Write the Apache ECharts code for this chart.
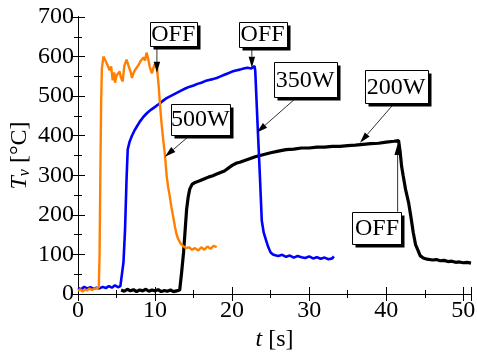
<!DOCTYPE html>
<html>
<head>
<meta charset="utf-8">
<script src="https://cdn.jsdelivr.net/npm/echarts@6/dist/echarts.min.js"></script>
<style>html,body{margin:0;padding:0;background:#fff}#c{width:477px;height:356px}</style>
</head>
<body>
<div id="c"></div>
<script>
// ---- data: [t (s), Tv (°C)] ----
var s500W = [[0.0,8],[0.3,12],[0.6,6],[0.9,11],[1.2,9],[1.5,14],[1.8,10],[2.1,13],[2.4,15],[2.7,16],[2.8,100],[2.9,300],[3.0,480],[3.1,570],[3.3,600],[3.5,598],[3.8,580],[4.1,565],[4.3,575],[4.5,540],[4.7,560],[4.8,534],[5.0,552],[5.2,548],[5.4,562],[5.6,545],[5.8,537],[6.0,575],[6.3,592],[6.5,580],[6.7,575],[6.85,560],[7.0,546],[7.2,558],[7.4,566],[7.6,571],[7.9,580],[8.1,588],[8.3,592],[8.5,598],[8.7,590],[8.9,610],[9.1,595],[9.3,575],[9.45,565],[9.6,558],[9.8,572],[9.95,580],[10.1,576],[10.25,572],[10.45,530],[10.6,490],[10.8,440],[11.0,400],[11.3,348],[11.5,300],[11.7,270],[11.9,248],[12.1,222],[12.4,190],[12.6,168],[12.8,150],[13.0,139],[13.3,128],[13.6,122],[14.0,116],[14.4,118],[14.8,112],[15.2,116],[15.6,110],[16.0,118],[16.4,112],[16.8,120],[17.2,114],[17.6,122],[18.0,118]];

var s350W = [[0.0,15],[0.4,12],[0.8,18],[1.2,14],[1.6,17],[2.0,13],[2.4,16],[2.8,14],[3.2,18],[3.6,15],[4.0,20],[4.4,16],[4.8,22],[5.2,17],[5.5,20],[5.7,25],[5.9,80],[6.1,160],[6.3,290],[6.45,365],[6.7,385],[7.0,400],[7.3,412],[7.6,422],[8.0,435],[8.5,448],[9.0,458],[9.5,466],[10.0,473],[10.5,480],[11.0,488],[11.5,495],[12.0,500],[12.5,505],[13.0,510],[13.5,515],[14.0,520],[14.5,524],[15.0,527],[15.5,531],[16.0,534],[16.5,538],[17.0,541],[17.5,543],[18.0,546],[18.5,550],[19.0,554],[19.5,558],[20.0,562],[20.5,565],[21.0,567],[21.5,570],[22.0,572],[22.5,570],[22.9,576],[23.0,565],[23.3,430],[23.6,300],[23.85,185],[24.1,155],[24.4,136],[24.7,118],[25.0,105],[25.3,100],[25.6,98],[26.0,96],[26.5,99],[27.0,94],[27.5,97],[28.0,92],[28.5,96],[29.0,93],[29.5,91],[30.0,95],[30.5,90],[31.0,93],[31.5,89],[32.0,92],[32.5,88],[33.0,90],[33.2,95]];

var s200W = [[5.6,10],[6.0,7],[6.4,12],[6.8,8],[7.2,11],[7.6,6],[8.0,10],[8.4,8],[8.8,12],[9.2,7],[9.6,10],[10.0,8],[10.4,11],[10.8,6],[11.2,9],[11.6,7],[12.0,10],[12.4,6],[12.8,8],[13.2,10],[13.45,55],[13.7,105],[13.9,160],[14.1,215],[14.3,245],[14.5,265],[14.8,277],[15.2,282],[15.8,286],[16.5,292],[17.0,296],[17.5,299],[18.0,303],[19.0,311],[20.0,325],[20.6,331],[21.0,333],[22.0,340],[23.0,347],[24.0,352],[25.0,357],[26.0,361],[27.0,365],[28.0,366],[29.0,369],[30.0,369],[31.0,371],[32.0,371],[33.0,373],[34.0,373],[35.0,375],[36.0,376],[37.0,378],[38.0,380],[39.0,381],[40.0,384],[41.0,386],[41.6,388],[41.8,360],[42.0,322],[42.2,299],[42.5,265],[42.9,231],[43.2,195],[43.5,156],[43.8,125],[44.0,116],[44.4,97],[44.8,91],[45.3,88],[46.0,86],[46.5,87],[47.0,84],[47.5,85],[48.0,82],[48.5,83],[49.0,80],[49.5,81],[50.0,79],[50.5,80],[51.0,78]];

var xTicks = [0, 10, 20, 30, 40, 50];
var yTicks = [0, 100, 200, 300, 400, 500, 600, 700];

// annotations: label box centre (data coords), arrow from -> to (data coords)
var notes = [
  {text:'OFF',  box:[12.36,657], w:47, h:24, from:[10.24,627], to:[10.24,559]},
  {text:'OFF',  box:[23.96,657], w:48, h:25, from:[22.56,626], to:[22.56,572]},
  {text:'350W', box:[29.47,541], w:63, h:35, from:[28.39,497], to:[23.2,408]},
  {text:'200W', box:[41.27,524], w:63, h:33, from:[41.09,483], to:[36.6,382]},
  {text:'500W', box:[15.86,442], w:59, h:31, from:[14.65,403], to:[11.28,347]},
  {text:'OFF',  box:[38.8,167],  w:49, h:32, from:[41.48,208], to:[41.48,379]}
];

var FONT = 'Liberation Serif';
var chart = echarts.init(document.getElementById('c'), null, {renderer:'canvas'});

function xax(pos, interval, len, labels) {
  return {
    type:'value', min:0, max:51, interval:interval, position:pos,
    axisLine:{show:true, lineStyle:{color:'#000', width:1}},
    axisTick:{show:true, inside:true, length:len, lineStyle:{color:'#000', width:1}},
    axisLabel:{show:labels, fontFamily:FONT, fontSize:24, color:'#000', margin:5,
      formatter:function(v){ return xTicks.indexOf(v) >= 0 ? String(v) : ''; }},
    splitLine:{show:false}
  };
}
function yax(pos, interval, len, labels) {
  return {
    type:'value', min:0, max:700, interval:interval, position:pos,
    axisLine:{show:true, lineStyle:{color:'#000', width:1}},
    axisTick:{show:true, inside:true, length:len, lineStyle:{color:'#000', width:1}},
    axisLabel:{show:labels, fontFamily:FONT, fontSize:24, color:'#000', margin:4,
      formatter:function(v){ return yTicks.indexOf(v) >= 0 ? String(v) : ''; }},
    splitLine:{show:false}
  };
}

var xa0 = xax('bottom', 10, 7, true);
xa0.name = '{i|t} [s]';
xa0.nameLocation = 'middle';
xa0.nameGap = 34;
xa0.nameMoveOverlap = false;
xa0.nameTextStyle = {fontFamily:FONT, fontSize:24, color:'#000', rich:{i:{fontFamily:FONT, fontSize:24, fontStyle:'italic', color:'#000'}}};
var ya0 = yax('left', 100, 7, true);
ya0.name = '{i|T}{sub|v} [°C]';
ya0.nameLocation = 'middle';
ya0.nameGap = 45;
ya0.nameMoveOverlap = false;
ya0.nameTextStyle = {fontFamily:FONT, fontSize:24, color:'#000', rich:{
  i:{fontFamily:FONT, fontSize:24, fontStyle:'italic', color:'#000'},
  sub:{fontFamily:FONT, fontSize:16, fontStyle:'italic', color:'#000', padding:[10,0,0,0]}
}};

var option = {
  animation:false,
  backgroundColor:'#fff',
  grid:{left:78, right:6, top:17, bottom:62, containLabel:false, outerBoundsMode:'none'},
  xAxis:[xa0, xax('bottom',5,4,false), xax('top',10,7,false), xax('top',5,4,false)],
  yAxis:[ya0, yax('left',50,4,false), yax('right',100,7,false), yax('right',50,4,false)],
  series:[
    {type:'line', name:'200W', data:s200W, xAxisIndex:0, yAxisIndex:0, showSymbol:false, symbol:'none', lineStyle:{color:'#000', width:3.2}, z:2},
    {type:'line', name:'350W', data:s350W, xAxisIndex:0, yAxisIndex:0, showSymbol:false, symbol:'none', lineStyle:{color:'#0000ff', width:2.6}, z:3},
    {type:'line', name:'500W', data:s500W, xAxisIndex:0, yAxisIndex:0, showSymbol:false, symbol:'none', lineStyle:{color:'#ff8000', width:2.4}, z:4}
  ]
};
chart.setOption(option);

function px(p){ return chart.convertToPixel({xAxisIndex:0, yAxisIndex:0}, p); }
var g = [];
notes.forEach(function(n){
  var c = px(n.box), a = px(n.from), b = px(n.to);
  var dx = b[0]-a[0], dy = b[1]-a[1], L = Math.sqrt(dx*dx+dy*dy);
  var ux = dx/L, uy = dy/L, hl = 11, hw = 3.2;
  var bx = b[0]-ux*hl, by = b[1]-uy*hl;
  g.push({type:'line', shape:{x1:a[0], y1:a[1], x2:bx, y2:by}, style:{stroke:'#333', lineWidth:1}, z:10});
  g.push({type:'polygon', shape:{points:[[b[0],b[1]],[bx-uy*hw, by+ux*hw],[bx+uy*hw, by-ux*hw]]}, style:{fill:'#000'}, z:10});
  var l = Math.round(c[0]-n.w/2)+0.5, t = Math.round(c[1]-n.h/2)+0.5;
  g.push({type:'rect', shape:{x:l+3, y:t+3, width:n.w, height:n.h}, style:{fill:'#000'}, z:11});
  g.push({type:'rect', shape:{x:l, y:t, width:n.w, height:n.h}, style:{fill:'#fff', stroke:'#000', lineWidth:1}, z:12});
  g.push({type:'text', x:c[0], y:c[1]+1, style:{text:n.text, font:'24px "Liberation Serif"', fill:'#000', align:'center', verticalAlign:'middle'}, z:13});
});
chart.setOption({graphic:g});
</script>
</body>
</html>
